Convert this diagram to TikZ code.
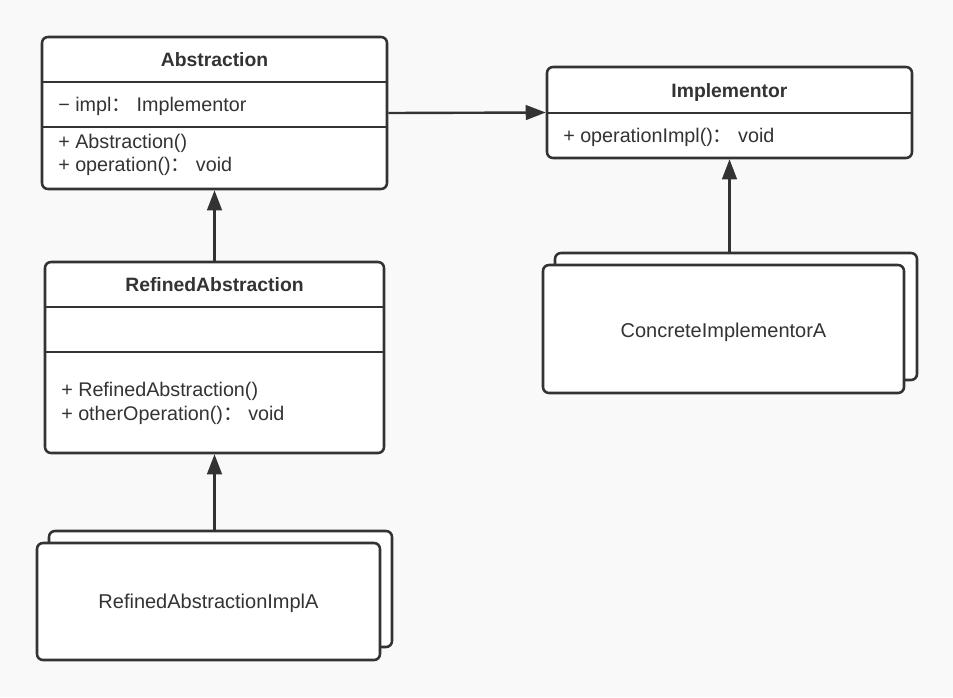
\documentclass[tikz,border=0pt]{standalone}
\usepackage{fontspec}
\setmainfont{Liberation Sans}
\newfontfamily\cjkfont{Noto Sans CJK SC}
\usepackage{tikz}
\usetikzlibrary{arrows.meta,fit}
\definecolor{umlInk}{HTML}{333333}
\definecolor{umlPaper}{HTML}{F9F9F9}

\begin{document}
\begin{tikzpicture}[
  x=.75pt,y=-.75pt,
  umlbox/.style={draw=umlInk,fill=white,line width=1.9pt,rounded corners=4.5pt,inner sep=0pt},
  divline/.style={draw=umlInk,line width=1.9pt},
  conn/.style={draw=umlInk,line width=1.8pt,-{Triangle[length=15pt,width=11pt]}},
  ttl/.style={font=\fontsize{14.5}{16}\selectfont\bfseries,color=umlInk,anchor=base},
  mem/.style={font=\fontsize{14.8}{17}\selectfont,color=umlInk,anchor=base west,inner sep=0pt},
  lbl/.style={font=\fontsize{15}{17}\selectfont,color=umlInk,anchor=base}
]
  \fill[umlPaper] (0,0) rectangle (953,697);
  \node[umlbox,fit={(42,37) (387,189)}] (abs) {};
  \draw[divline] (42,82) -- (387,82);
  \draw[divline] (42,127) -- (387,127);
  \node[ttl] (absname) at (214.5,66) {Abstraction};
  \node[mem] (absattr) at (58,111.7) {− impl{\cjkfont ：} Implementor};
  \node[mem] (absop1) at (58,148.3) {+ Abstraction()};
  \node[mem] (absop2) at (58,171.7) {+ operation(){\cjkfont ：} void};
  \node[umlbox,fit={(547,67) (912,158)}] (impl) {};
  \draw[divline] (547,113) -- (912,113);
  \node[ttl] (implname) at (729.5,97) {Implementor};
  \node[mem] (implop) at (563,142) {+ operationImpl(){\cjkfont ：} void};
  \node[umlbox,fit={(45,262) (384,453)}] (ref) {};
  \draw[divline] (45,307) -- (384,307);
  \draw[divline] (45,352) -- (384,352);
  \node[ttl] (refname) at (214.5,291.7) {RefinedAbstraction};
  \node[mem] (refop1) at (61,396.7) {+ RefinedAbstraction()};
  \node[mem] (refop2) at (61,420.7) {+ otherOperation(){\cjkfont ：} void};
  \node[umlbox,fit={(555,253) (917,380)}] (concback) {};
  \node[umlbox,fit={(543,265) (904,393)}] (conc) {};
  \node[lbl] (concname) at (723.5,337.7) {ConcreteImplementorA};
  \node[umlbox,fit={(49,531) (392,647)}] (refimplback) {};
  \node[umlbox,fit={(37,543) (380,660)}] (refimpl) {};
  \node[lbl] (refimplname) at (208.5,608.3) {RefinedAbstractionImplA};
  \draw[conn] (ref.north) -- (abs.south);
  \draw[conn] (abs.east) -- (impl.west);
  \draw[conn] (refimplback.north -| ref.south) -- (ref.south);
  \draw[conn] (concback.north -| impl.south) -- (impl.south);
\end{tikzpicture}
\end{document}
